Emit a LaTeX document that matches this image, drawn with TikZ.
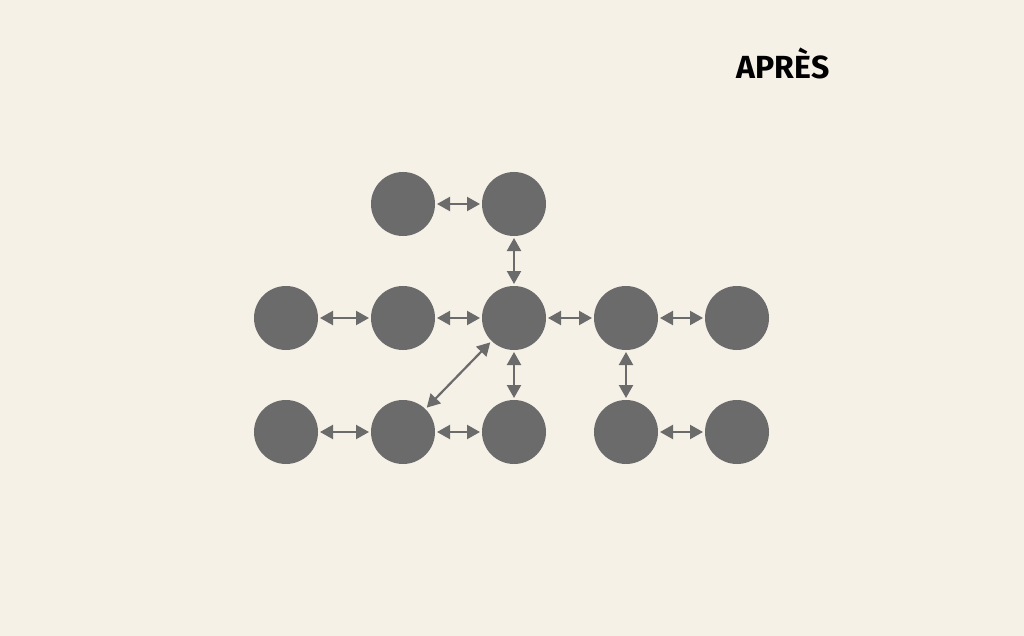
\documentclass[tikz,border=0pt]{standalone}
\usepackage{fontspec}
\setmainfont{Fira Sans}
\usetikzlibrary{arrows.meta}
\definecolor{bgcream}{HTML}{F6F1E7}
\definecolor{dotgray}{HTML}{6B6B6B}

\begin{document}
\begin{tikzpicture}[x=1pt,y=-1pt,
  dot/.style={circle,fill=dotgray,minimum size=64pt,inner sep=0pt,outer sep=2pt},
  link/.style={draw=dotgray,line width=2.2pt,{Triangle[length=13pt,width=14pt]}-{Triangle[length=13pt,width=14pt]}}]

\fill[bgcream] (0,0) rectangle (1024,636);

\node at (783,63) {\fontsize{32}{36}\bfseries APRÈS};

\node[dot] (t2) at (403,204) {};
\node[dot] (t3) at (514,204) {};

\node[dot] (m1) at (286,318) {};
\node[dot] (m2) at (403,318) {};
\node[dot] (m3) at (514,318) {};
\node[dot] (m4) at (626,318) {};
\node[dot] (m5) at (737,318) {};

\node[dot] (b1) at (286,432) {};
\node[dot] (b2) at (403,432) {};
\node[dot] (b3) at (514,432) {};
\node[dot] (b4) at (626,432) {};
\node[dot] (b5) at (737,432) {};

\draw[link] (t2) -- (t3);
\draw[link] (t3) -- (m3);
\draw[link] (m1) -- (m2);
\draw[link] (m2) -- (m3);
\draw[link] (m3) -- (m4);
\draw[link] (m4) -- (m5);
\draw[link] (m3) -- (b3);
\draw[link] (m3) -- (b2);
\draw[link] (m4) -- (b4);
\draw[link] (b1) -- (b2);
\draw[link] (b2) -- (b3);
\draw[link] (b4) -- (b5);

\end{tikzpicture}
\end{document}
